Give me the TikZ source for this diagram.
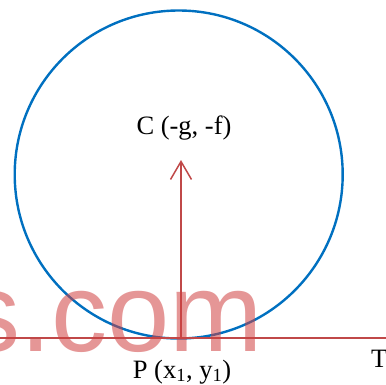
\documentclass[tikz,border=0pt]{standalone}
\usepackage{fontspec}
\setmainfont{Liberation Serif}
\newfontfamily\wmfont{Liberation Sans}
\usetikzlibrary{arrows.meta}
\definecolor{cblue}{RGB}{0,112,192}
\definecolor{lred}{RGB}{192,72,72}
\definecolor{wmred}{RGB}{208,64,64}
\tikzset{
  redline/.style={draw=lred, line width=1.5pt},
  lbl/.style={font=\fontsize{26.5}{30}\selectfont, inner sep=0pt},
  wm/.style={font=\wmfont\fontsize{112}{120}\selectfont, text=wmred, text opacity=0.55, inner sep=0pt}
}
\begin{document}
\begin{tikzpicture}[x=1pt,y=-1pt]
\useasboundingbox (0,0) rectangle (386,384);
\node[circle, draw=cblue, line width=2.4pt, minimum size=328pt, inner sep=0pt] (circ) at (178.7,174.5) {};
\coordinate (L) at (0,338);
\coordinate (R) at (386,338);
\coordinate (P) at (181,338);
\coordinate (Ctip) at (181,160);
\draw[redline] (L) -- (R);
\draw[redline, -{Straight Barb[length=18pt,width=21pt,line width=1.5pt]}] (P) -- (Ctip);
\node[lbl] (clabel) at (184,128) {C (-g, -f)};
\node[lbl, anchor=base] (plabel) at (182,378) {P (x\textsubscript{1}, y\textsubscript{1})};
\node[lbl, anchor=base west] (tlabel) at (371,367) {T};
\node[wm, anchor=base east] (wmark) at (263,351) {s.com};
\end{tikzpicture}
\end{document}
